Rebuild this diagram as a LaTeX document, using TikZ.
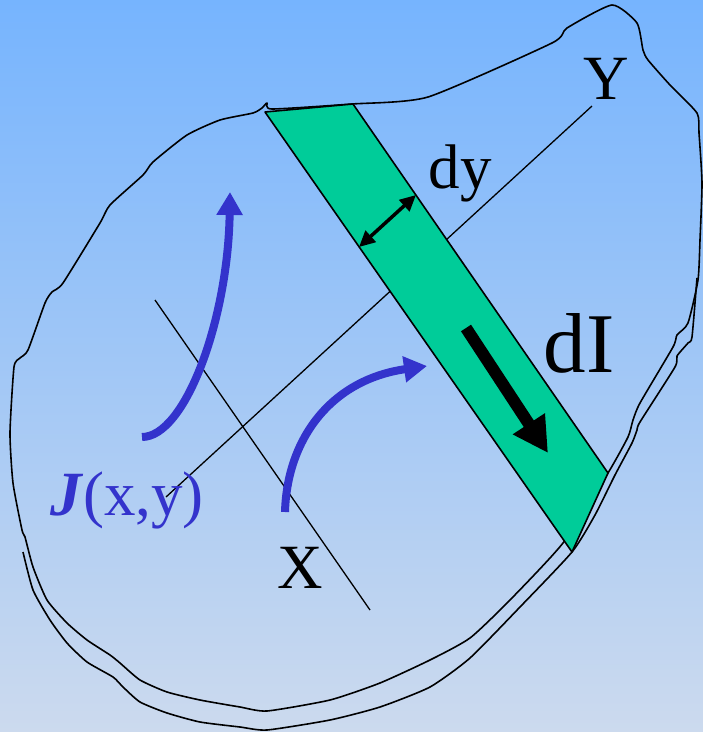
\documentclass[tikz,border=0pt]{standalone}
\usepackage{fontspec}
\setmainfont{Liberation Serif}
\usetikzlibrary{arrows.meta}
\definecolor{bgtop}{HTML}{76B4FE}
\definecolor{bgbot}{HTML}{CCDAEE}
\definecolor{stripgreen}{HTML}{00CC99}
\definecolor{jblue}{HTML}{3333CC}
\begin{document}
\begin{tikzpicture}[x=1pt,y=-1pt,
  outline/.style={line width=1.6pt, black, line join=round},
  axisline/.style={line width=1.3pt, black},
  lbl/.style={anchor=base, inner sep=0pt, font=\fontsize{63}{63}\selectfont},
  bluearrow/.style={jblue, line width=8pt, -{Triangle[width=25pt,length=23pt]}}]
\shade[top color=bgtop, bottom color=bgbot] (0,0) rectangle (703,732);
\useasboundingbox (0,0) rectangle (703,732);
% main outline
\draw[outline] plot[smooth cycle, tension=0.35] coordinates {
 (47,600) (33,567) (25,537) (22,530) (13,483) (10,433) (14,367) (20,358) (28,350)
 (45,303) (52,292) (63,283) (100,223) (110,205) (143,175) (153,162) (187,135)
 (220,120) (253,113) (262,108) (267,103) (272,109) (352,104) (428,97) (552,43)
 (567,28) (612,5) (637,23) (643,50) (648,60) (670,85) (697,113) (699,133) (702,183)
 (700,240) (698,280) (688,323) (677,335) (673,347) (640,403) (633,420) (628,437)
 (608,473) (563,543) (510,600) (470,638) (430,660) (380,683) (330,700) (267,711)
 (240,707) (200,700) (167,692) (140,680) (120,663) (110,655) (87,640) (67,623)};
% shadow outline
\draw[outline] plot[smooth, tension=0.35] coordinates {
 (697,278) (692,337) (688,343) (677,356) (675,367) (640,422) (637,430) (632,443)
 (615,475) (595,515) (572,552) (520,607) (470,658) (430,687) (380,707) (330,720)
 (267,730) (240,727) (200,722) (167,713) (140,702) (123,687) (113,677) (87,662)
 (67,643) (50,620) (33,590) (23,552)};
% axes
\coordinate (Ytop) at (592,106);
\coordinate (Ybot) at (166,497);
\coordinate (Xtop) at (155,300);
\coordinate (Xbot) at (370,610);
\draw[axisline] (Ytop) -- (Ybot);
\draw[axisline] (Xtop) -- (Xbot);
% strip
\coordinate (s1) at (265,112);
\coordinate (s2) at (353,104);
\coordinate (s3) at (608,473);
\coordinate (s4) at (572,552);
\draw[fill=stripgreen, line width=1.6pt, line join=round] (s1) -- (s2) -- (s3) -- (s4) -- cycle;
% dy arrow
\coordinate (dyA) at (359,247);
\coordinate (dyB) at (416,195);
\draw[line width=3.5pt, {Triangle[width=15pt,length=16pt]}-{Triangle[width=15pt,length=16pt]}] (dyA) -- (dyB);
% dI arrow
\coordinate (dIA) at (466,328);
\coordinate (dIB) at (548,453);
\draw[line width=12pt, -{Triangle[width=36pt,length=35pt]}] (dIA) -- (dIB);
% blue arrows
\coordinate (a1s) at (142,437);
\coordinate (a1e) at (230,192);
\draw[bluearrow] (a1s) .. controls (185,437) and (228,320) .. (a1e);
\coordinate (a2s) at (285,512);
\coordinate (a2e) at (427,366);
\draw[bluearrow] (a2s) .. controls (287,440) and (330,380) .. (a2e);
% labels
\node[lbl] (Ylbl) at (606,99) {Y};
\node[lbl] (dylbl) at (460,188) {dy};
\node[lbl, font=\fontsize{85}{85}\selectfont] (dIlbl) at (579,372) {dI};
\node[lbl] (Xlbl) at (300,588) {X};
\node[lbl, text=jblue] (Jlbl) at (127,515) {\textbf{\textit{J}}(x,y)};
\end{tikzpicture}
\end{document}
